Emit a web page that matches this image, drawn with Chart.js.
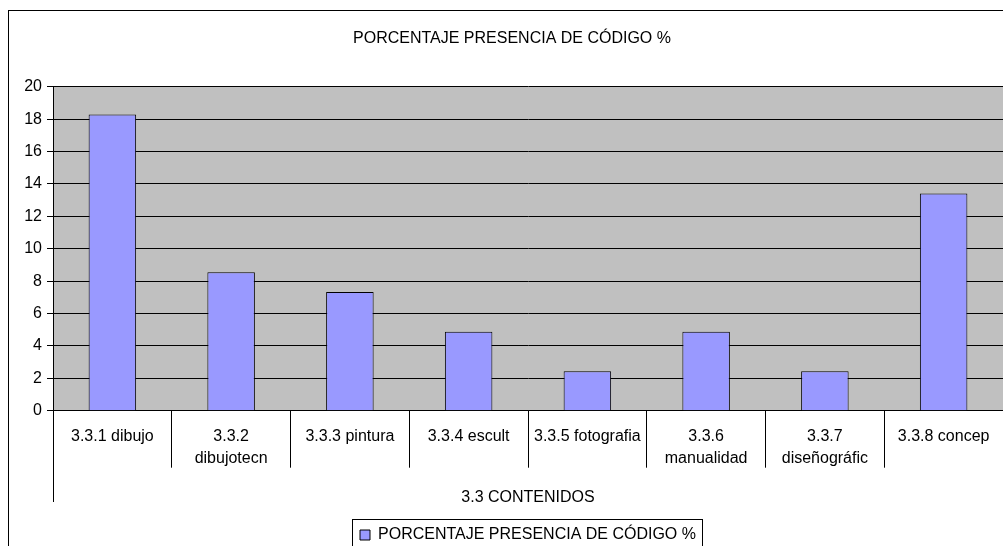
<!DOCTYPE html>
<html>
<head>
<meta charset="utf-8">
<title>Porcentaje presencia de código</title>
<style>
  html, body { margin: 0; padding: 0; background: #ffffff; overflow: hidden; }
  #wrap { position: relative; width: 1024px; height: 570px; }
</style>
<script src="https://cdn.jsdelivr.net/npm/chart.js@4.4.1/dist/chart.umd.min.js"></script>
</head>
<body>
<div id="wrap"><canvas id="chart"></canvas></div>
<script>
// Categories (multi-line where the label wraps)
const categories = [
  ['3.3.1 dibujo'],
  ['3.3.2', 'dibujotecn'],
  ['3.3.3 pintura'],
  ['3.3.4 escult'],
  ['3.3.5 fotografia'],
  ['3.3.6', 'manualidad'],
  ['3.3.7', 'diseñográfic'],
  ['3.3.8 concep']
];

// Series values (%)
const porcentaje = [18.29, 8.54, 7.32, 4.88, 2.44, 4.88, 2.44, 13.41];

// Texts
const seriesName = 'PORCENTAJE PRESENCIA DE CÓDIGO %';
const chartTitle = 'PORCENTAJE PRESENCIA DE CÓDIGO %';
const xAxisTitle = '3.3 CONTENIDOS';

// Value axis tick labels
const yTickLabels = [0, 2, 4, 6, 8, 10, 12, 14, 16, 18, 20];

const FONT = 'Liberation Sans, Arial, sans-serif';

// Grey plot background and the outer chart frame
const backgroundPlugin = {
  id: 'plotBackground',
  beforeDraw(chart) {
    const { ctx, chartArea } = chart;
    ctx.save();
    ctx.fillStyle = '#c0c0c0';
    ctx.fillRect(chartArea.left, chartArea.top, chartArea.right - chartArea.left, chartArea.bottom - chartArea.top);
    ctx.strokeStyle = '#000000';
    ctx.lineWidth = 1;
    ctx.strokeRect(8.5, 10.5, 1007, 550);
    ctx.restore();
  }
};

// Centre the chart title on the whole frame, and the long group-axis line under the categories
const layoutPlugin = {
  id: 'layoutTweaks',
  afterLayout(chart) {
    const t = chart.titleBlock;
    if (t) { t.left += 6.5; t.right += 6.5; }
  },
  afterDraw(chart) {
    const { ctx, chartArea } = chart;
    const x = Math.round(chartArea.left) + 0.5;
    ctx.save();
    ctx.strokeStyle = '#000000';
    ctx.lineWidth = 1;
    ctx.beginPath();
    ctx.moveTo(x, chartArea.bottom);
    ctx.lineTo(x, 502);
    ctx.stroke();
    // frame around the legend
    const lg = chart.legend;
    if (lg && lg.legendHitBoxes && lg.legendHitBoxes.length) {
      const hb = lg.legendHitBoxes[0];
      const l = Math.round(hb.left - 8) + 0.5;
      const r = Math.round(hb.left + hb.width + 6) + 0.5;
      const tp = Math.round(hb.top - 8) + 0.5;
      ctx.strokeRect(l, tp, r - l, 60);
    }
    ctx.restore();
  }
};

new Chart(document.getElementById('chart'), {
  type: 'bar',
  data: {
    labels: categories,
    datasets: [{
      label: seriesName,
      data: porcentaje,
      backgroundColor: '#9999ff',
      borderColor: '#000000',
      borderWidth: 1,
      categoryPercentage: 1.0,
      barPercentage: 0.4
    }]
  },
  options: {
    responsive: true,
    maintainAspectRatio: false,
    animation: false,
    devicePixelRatio: 1,
    layout: { padding: { left: 8, right: 21, top: 0, bottom: 17 } },
    plugins: {
      title: {
        display: true,
        text: chartTitle,
        color: '#000000',
        font: { family: FONT, size: 16, weight: 'normal', lineHeight: 1.2 },
        padding: { top: 29.4, bottom: 38.1 }
      },
      legend: {
        display: true,
        position: 'bottom',
        fullSize: false,
        labels: {
          color: '#000000',
          font: { family: FONT, size: 16 },
          boxWidth: 10,
          boxHeight: 10,
          padding: 10
        }
      },
      tooltip: { enabled: false }
    },
    scales: {
      x: {
        offset: true,
        grid: {
          offset: true,
          drawOnChartArea: false,
          color: '#000000',
          tickLength: 57,
          lineWidth: 1
        },
        border: { color: '#000000', width: 1 },
        ticks: {
          color: '#000000',
          font: { family: FONT, size: 16, lineHeight: 1.375 },
          padding: -42.3,
          maxRotation: 0,
          minRotation: 0,
          autoSkip: false
        },
        title: {
          display: true,
          text: xAxisTitle,
          color: '#000000',
          font: { family: FONT, size: 16, lineHeight: 1.2 },
          padding: { top: 0, bottom: 9.5 }
        },
        afterFit(scale) { scale.height = 106.3; }
      },
      y: {
        min: yTickLabels[0],
        max: yTickLabels[yTickLabels.length - 1],
        afterBuildTicks(scale) { scale.ticks = yTickLabels.map(v => ({ value: v })); },
        grid: {
          color: '#000000',
          tickColor: '#000000',
          tickLength: 6,
          lineWidth: 1
        },
        border: { color: '#000000', width: 1 },
        ticks: {
          color: '#000000',
          font: { family: FONT, size: 16 },
          padding: 5
        },
        afterFit(scale) { scale.width = 45; }
      }
    }
  },
  plugins: [backgroundPlugin, layoutPlugin]
});
</script>
</body>
</html>
